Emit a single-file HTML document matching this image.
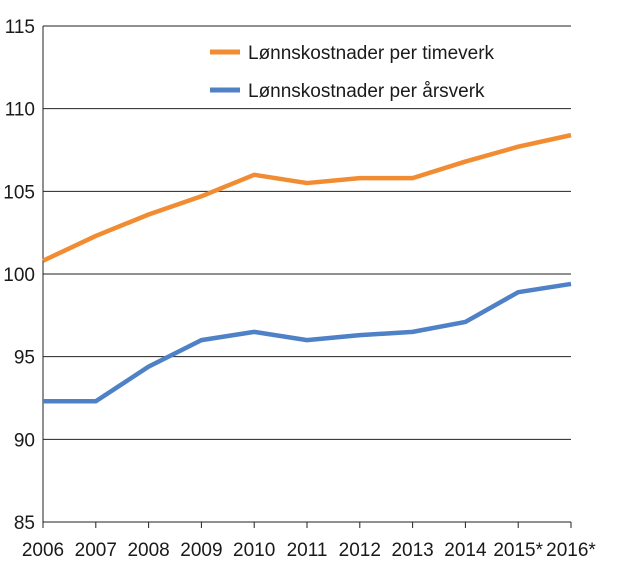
<!DOCTYPE html>
<html><head><meta charset="utf-8"><style>
body{margin:0;background:#fff;}
svg text{font-family:"Liberation Sans",Arial,sans-serif;fill:#1a1a1a;}
</style></head><body>
<svg id="chart" width="620" height="573" viewBox="0 0 620 573" xmlns="http://www.w3.org/2000/svg">
<g id="grid"></g>
<g id="axes"></g>
<g id="series"></g>
<g>
<line x1="210" y1="52" x2="240" y2="52" stroke="#f28c33" stroke-width="5"/>
<text x="248" y="59" font-size="19">Lønnskostnader per timeverk</text>
<line x1="210" y1="90" x2="240" y2="90" stroke="#4f81c7" stroke-width="5"/>
<text x="248" y="97" font-size="19">Lønnskostnader per årsverk</text>
</g>
</svg>
<script>
const categories=["2006","2007","2008","2009","2010","2011","2012","2013","2014","2015*","2016*"];
const timeverk=[100.8,102.3,103.6,104.7,106.0,105.5,105.8,105.8,106.8,107.7,108.4];
const arsverk=[92.3,92.3,94.4,96.0,96.5,96.0,96.3,96.5,97.1,98.9,99.4];
const yTicks=[85,90,95,100,105,110,115];
const NS="http://www.w3.org/2000/svg";
const L=43,R=571,T=26,B=522,yMin=85,yMax=115;
const x=i=>L+(R-L)*i/(categories.length-1);
const y=v=>B-(v-yMin)/(yMax-yMin)*(B-T);
function mk(tag,attrs,parent){const e=document.createElementNS(NS,tag);for(const k in attrs)e.setAttribute(k,attrs[k]);parent.appendChild(e);return e;}
const grid=document.getElementById('grid'),axes=document.getElementById('axes'),series=document.getElementById('series');
yTicks.forEach(v=>{
 if(v>yMin){const g=mk('line',{x1:L,x2:R,y1:y(v),y2:y(v),stroke:'#222','stroke-width':1},grid);
 
 }
 const t=mk('text',{x:35,y:y(v)+7,'font-size':19,'text-anchor':'end'},axes);t.textContent=v;
 
 
});
const ax=mk('line',{x1:L,x2:L,y1:T,y2:B,stroke:'#222','stroke-width':1},axes);


const bx=mk('line',{x1:L,x2:R,y1:B,y2:B,stroke:'#222','stroke-width':1},axes);


categories.forEach((c,i)=>{
 const tk=mk('line',{x1:x(i),x2:x(i),y1:B,y2:B+6,stroke:'#222','stroke-width':1},axes);
 
 
 const t=mk('text',{x:x(i),y:556,'font-size':19,'text-anchor':'middle'},axes);t.textContent=c;
 
 
});
function line(vals,color,name){
 const p=mk('polyline',{points:vals.map((v,i)=>x(i)+','+y(v)).join(' '),fill:'none',stroke:color,'stroke-width':4.5,'stroke-linejoin':'round'},series);
 
 
}
line(timeverk,'#f28c33','line-timeverk');
line(arsverk,'#4f81c7','line-arsverk');
</script>
</body></html>
